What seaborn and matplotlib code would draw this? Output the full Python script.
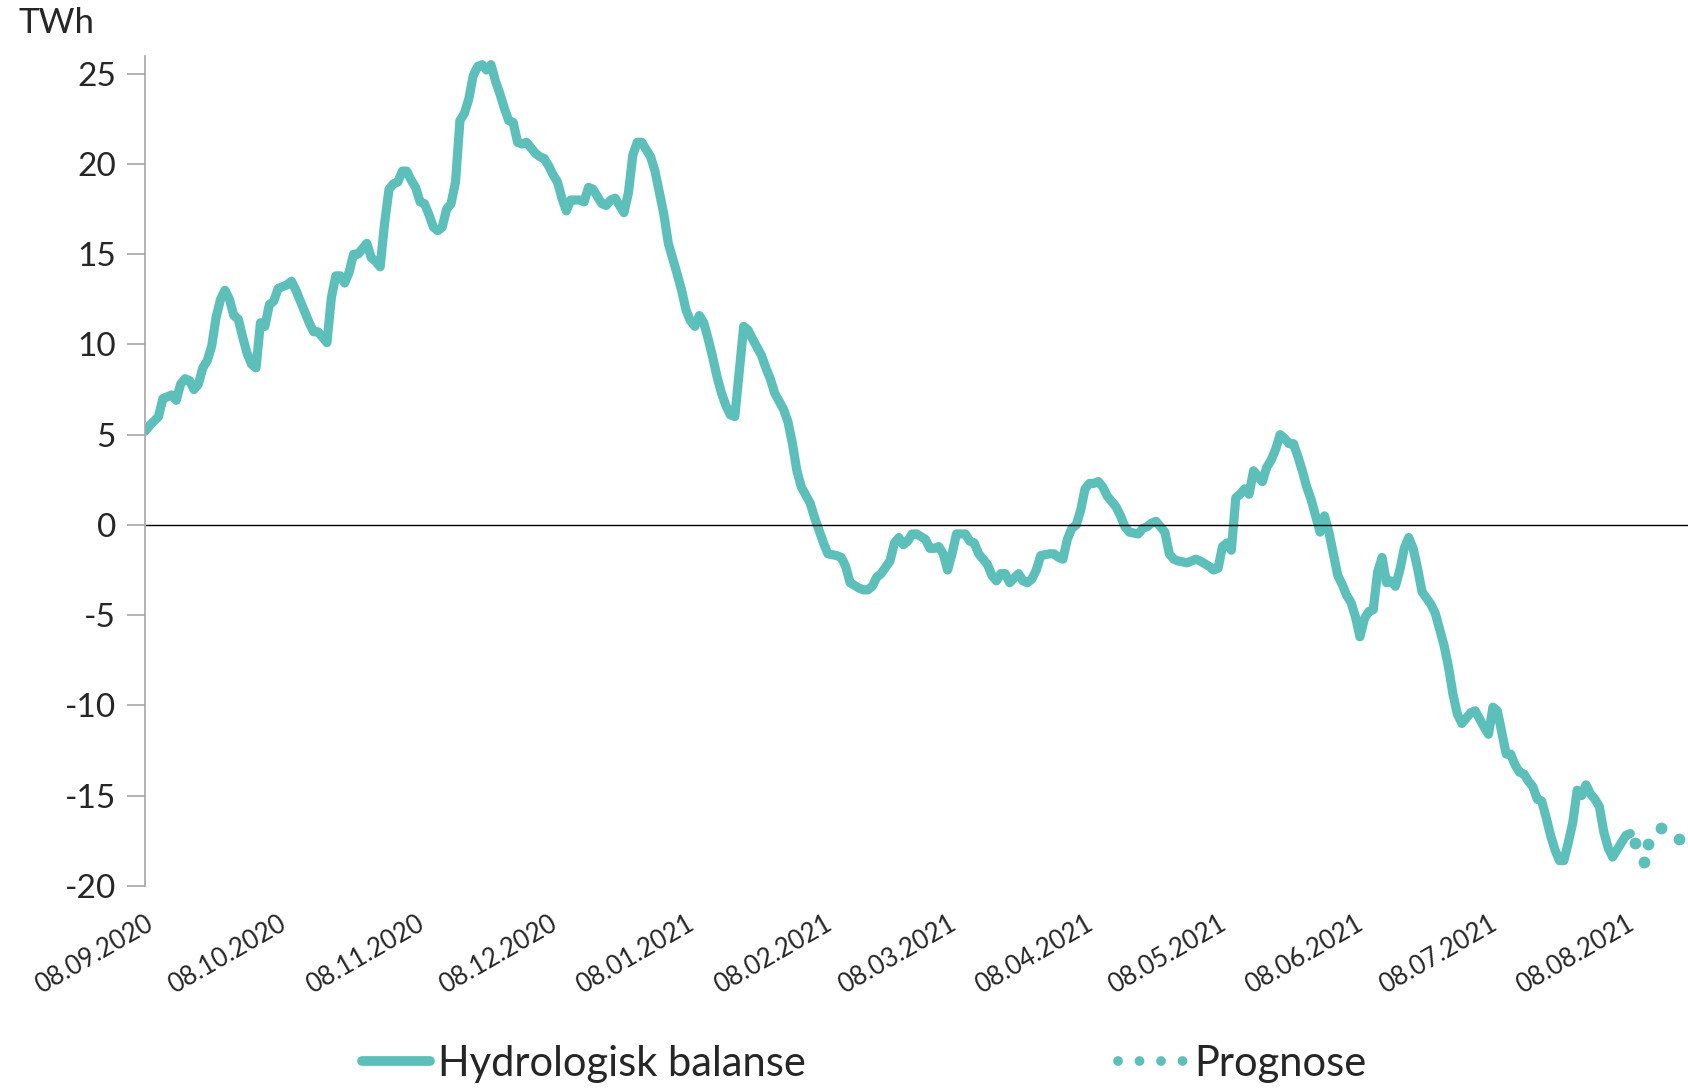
import numpy as np
import pandas as pd
import matplotlib
matplotlib.use("Agg")
import matplotlib.pyplot as plt
from matplotlib.lines import Line2D
import seaborn as sns

# observed series: day offsets from start date and balance in TWh
start_date = "2020-09-08"
day_offset = [
    0, 1, 3, 4, 6, 7, 8, 9, 10, 11, 12, 13, 14, 15, 16, 17, 18, 19, 20, 21,
    22, 23, 24, 25, 26, 27, 28, 29, 30, 31, 32, 33, 34, 35, 36, 37, 38, 39, 40, 41,
    42, 43, 44, 45, 46, 47, 48, 49, 50, 51, 52, 53, 54, 55, 56, 57, 58, 59, 60, 61,
    62, 63, 64, 65, 66, 67, 68, 69, 70, 71, 72, 73, 74, 75, 76, 77, 78, 79, 80, 81,
    82, 83, 84, 85, 86, 87, 88, 89, 90, 91, 92, 93, 94, 95, 96, 98, 99, 100, 101, 102,
    103, 104, 105, 106, 107, 108, 109, 110, 111, 112, 113, 114, 115, 116, 117, 118, 120, 121, 122, 123,
    124, 125, 126, 127, 128, 129, 130, 131, 132, 133, 134, 135, 136, 137, 139, 140, 141, 142, 144, 145,
    146, 147, 148, 150, 151, 152, 153, 154, 156, 157, 158, 159, 161, 162, 163, 164, 165, 166, 168, 169,
    170, 171, 172, 173, 174, 176, 177, 178, 179, 180, 181, 182, 183, 185, 186, 187, 188, 190, 191, 192,
    193, 194, 195, 197, 198, 199, 200, 201, 202, 204, 205, 206, 207, 208, 209, 210, 211, 212, 213, 214,
    215, 216, 217, 219, 220, 221, 222, 224, 225, 226, 227, 228, 229, 230, 231, 232, 233, 235, 236, 237,
    238, 240, 241, 242, 243, 244, 245, 246, 247, 248, 249, 250, 251, 252, 253, 254, 255, 256, 257, 258,
    259, 260, 261, 262, 263, 264, 265, 266, 267, 268, 269, 270, 271, 272, 273, 274, 275, 276, 277, 278,
    279, 280, 281, 282, 283, 284, 285, 286, 287, 288, 290, 291, 292, 293, 294, 295, 296, 297, 298, 299,
    300, 302, 303, 304, 305, 306, 307, 308, 309, 310, 311, 312, 313, 314, 315, 316, 317, 318, 319, 320,
    321, 322, 323, 324, 325, 326, 327, 328, 329, 330, 331, 332, 333, 334, 335,
]
balance = [
    5.2, 5.5, 6.0, 7.0, 7.2, 6.9, 7.8, 8.1, 8.0, 7.5, 7.8, 8.7, 9.1, 9.9, 11.5, 12.5, 13.0, 12.5, 11.6, 11.4,
    10.4, 9.5, 8.9, 8.7, 11.2, 11.0, 12.2, 12.4, 13.1, 13.2, 13.3, 13.5, 13.0, 12.4, 11.8, 11.2, 10.7, 10.7, 10.4, 10.1,
    12.6, 13.8, 13.8, 13.4, 14.0, 15.0, 15.0, 15.3, 15.6, 14.8, 14.6, 14.3, 16.7, 18.6, 18.9, 19.0, 19.6, 19.6, 19.1, 18.7,
    17.9, 17.8, 17.2, 16.5, 16.3, 16.5, 17.5, 17.8, 19.0, 22.4, 22.8, 23.6, 24.9, 25.4, 25.5, 25.2, 25.5, 24.6, 23.9, 23.1,
    22.4, 22.3, 21.2, 21.1, 21.2, 20.9, 20.6, 20.4, 20.3, 19.9, 19.4, 19.0, 18.1, 17.4, 18.0, 18.0, 17.9, 18.7, 18.6, 18.2,
    17.8, 17.7, 18.0, 18.1, 17.7, 17.3, 18.4, 20.5, 21.2, 21.2, 20.8, 20.4, 19.6, 18.4, 17.2, 15.6, 13.9, 13.0, 11.9, 11.3,
    11.0, 11.6, 11.2, 10.3, 9.3, 8.2, 7.3, 6.6, 6.1, 6.0, 8.5, 11.0, 10.8, 10.3, 9.4, 8.7, 8.1, 7.3, 6.4, 5.7,
    4.5, 3.0, 2.1, 1.2, 0.4, -0.3, -1.0, -1.6, -1.7, -1.8, -2.3, -3.2, -3.5, -3.6, -3.6, -3.4, -2.9, -2.7, -2.0, -1.0,
    -0.7, -1.1, -0.9, -0.5, -0.5, -0.8, -1.3, -1.3, -1.2, -1.6, -2.5, -1.6, -0.5, -0.5, -0.9, -1.0, -1.6, -2.2, -2.8, -3.1,
    -2.7, -2.7, -3.2, -2.7, -3.1, -3.2, -3.0, -2.5, -1.7, -1.6, -1.6, -1.8, -1.9, -0.8, -0.2, 0.0, 0.8, 2.0, 2.3, 2.3,
    2.4, 2.1, 1.6, 1.0, 0.5, -0.1, -0.4, -0.5, -0.2, -0.1, 0.1, 0.2, -0.1, -0.4, -1.6, -1.9, -2.0, -2.1, -2.0, -1.9,
    -2.0, -2.3, -2.5, -2.4, -1.2, -1.0, -1.4, 1.5, 1.7, 2.0, 1.7, 3.0, 2.7, 2.4, 3.2, 3.6, 4.2, 5.0, 4.8, 4.5,
    4.5, 3.8, 3.0, 2.1, 1.4, 0.5, -0.4, 0.5, -0.4, -1.6, -2.8, -3.3, -3.9, -4.3, -5.1, -6.2, -5.2, -4.8, -4.7, -2.6,
    -1.8, -3.2, -3.1, -3.4, -2.5, -1.3, -0.7, -1.3, -2.4, -3.7, -4.4, -4.9, -5.8, -6.7, -7.9, -9.4, -10.5, -11.0, -10.7, -10.4,
    -10.3, -11.2, -11.6, -10.1, -10.3, -11.5, -12.7, -12.7, -13.3, -13.7, -13.8, -14.2, -14.5, -15.2, -15.3, -16.2, -17.2, -18.0, -18.6, -18.6,
    -17.6, -16.5, -14.7, -15.0, -14.4, -14.9, -15.2, -15.6, -17.0, -17.9, -18.4, -18.0, -17.6, -17.2, -17.1,
]

# forecast points
prog_offset = [336, 338, 339, 342, 346]
prognose = [-17.6, -18.7, -17.7, -16.8, -17.4]

tick_dates = ["2020-09-08", "2020-10-08", "2020-11-08", "2020-12-08", "2021-01-08", "2021-02-08",
              "2021-03-08", "2021-04-08", "2021-05-08", "2021-06-08", "2021-07-08", "2021-08-08"]

start = pd.Timestamp(start_date)
df = pd.DataFrame({"dato": start + pd.to_timedelta(day_offset, unit="D"), "TWh": balance})
df_prog = pd.DataFrame({"dato": start + pd.to_timedelta(prog_offset, unit="D"), "TWh": prognose})

teal = "#5cbfba"

sns.set_style("white")
plt.rcParams["font.family"] = ["Lato", "DejaVu Sans"]
plt.rcParams["axes.unicode_minus"] = False

fig = plt.figure(figsize=(16.88, 10.91), dpi=100)
ax = fig.add_axes([0.086, 0.188, 0.914, 0.761])

sns.lineplot(data=df, x="dato", y="TWh", ax=ax, color=teal, linewidth=6.6)
ax.plot(df_prog["dato"], df_prog["TWh"], linestyle="none", marker="o", markersize=8.5,
        color=teal, markeredgewidth=0)

ax.axhline(0, color="black", linewidth=1)

ax.set_ylim(-20, 26)
ax.set_yticks(np.arange(-20, 26, 5))
ax.set_xlim(start, start + pd.Timedelta(days=348))
ticks = pd.to_datetime(tick_dates)
ax.set_xticks(ticks)
ax.set_xticklabels([t.strftime("%d.%m.%Y") for t in ticks], rotation=30, ha="right",
                   rotation_mode="anchor", fontsize=18.5)
ax.tick_params(axis="x", length=0, pad=18)
ax.tick_params(axis="y", left=True, length=13, width=1.2, color="#a6a6a6", labelsize=24, pad=8)

for s in ["top", "right", "bottom"]:
    ax.spines[s].set_visible(False)
ax.spines["left"].set_color("#a6a6a6")
ax.spines["left"].set_linewidth(1.2)
ax.set_xlabel("")
ax.set_ylabel("")

fig.text(0.011, 0.979, "TWh", fontsize=25, va="center", ha="left")

handles = [Line2D([0], [0], color=teal, linewidth=7, solid_capstyle="round"),
           Line2D([0], [0], color=teal, linewidth=7, linestyle=(0, (0.01, 2.2)),
                  dash_capstyle="round")]
fig.legend(handles, ["Hydrologisk balanse", "Prognose"], loc="center", ncol=2,
           bbox_to_anchor=(0.512, 0.025), frameon=False, fontsize=30,
           handlelength=1.62, handletextpad=0.2, columnspacing=7.5)

fig.savefig("out.png", dpi=100)
